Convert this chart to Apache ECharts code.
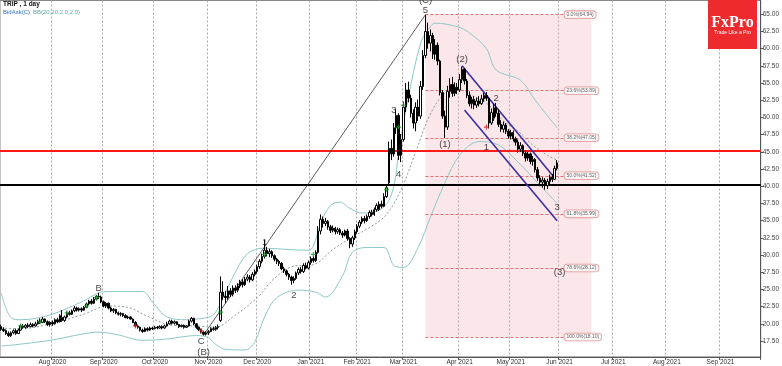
<!DOCTYPE html>
<html><head><meta charset="utf-8">
<script src="https://cdn.jsdelivr.net/npm/echarts@6/dist/echarts.min.js"></script>
<style>html,body{margin:0;padding:0;background:#fff}#c{width:782px;height:366px}</style>
</head><body><div id="c"></div>
<script>
// ---- categories: trading days (past) + weekdays (future projection) ----
const startDate = '2020-07-02';
const endDate = '2021-09-23';
const holidays = ['2020-07-03','2020-09-07','2020-11-26','2020-12-25','2021-01-01','2021-01-18','2021-02-15','2021-04-02','2021-05-31'];
const monthNames = ['Jan','Feb','Mar','Apr','May','Jun','Jul','Aug','Sep','Oct','Nov','Dec'];

// ---- OHLC as [open, close, low, high] ----
const candles = [
// Jul 2020
[19.6,19.2,19.0,19.9],[19.2,19.0,18.8,19.5],[19.0,18.6,18.4,19.2],[18.6,18.3,18.1,18.9],[18.3,18.7,18.1,18.9],
[18.7,19.0,18.5,19.2],[19.0,18.6,18.4,19.3],[18.6,19.1,18.5,19.3],[19.1,19.7,19.0,19.9],[19.7,19.5,19.3,20.0],
[19.5,19.8,19.3,20.0],[19.8,19.6,19.4,20.1],[19.6,19.9,19.5,20.2],[19.9,19.7,19.5,20.1],[19.7,20.0,19.6,20.3],
[20.0,20.4,19.9,20.6],[20.4,20.2,20.0,20.8],[20.2,20.7,20.1,21.0],[20.7,20.3,20.1,20.8],[20.3,19.9,19.7,20.5],
[19.9,20.2,19.6,20.4],
// Aug 2020
[20.2,20.0,19.7,20.5],[20.0,20.6,19.9,20.8],[20.6,20.3,20.1,20.9],[20.3,21.2,20.2,21.4],[20.9,20.5,20.3,22.0],
[20.5,21.0,20.3,21.2],[21.0,21.6,20.8,21.8],[21.6,21.4,21.2,21.9],[21.4,21.9,21.3,22.1],[21.9,22.3,21.7,22.6],
[22.3,22.0,21.8,22.5],[22.0,22.2,21.8,22.4],[22.2,22.0,21.7,22.4],[22.0,22.4,21.9,22.6],[22.4,22.9,22.3,23.1],
[22.9,23.3,22.7,23.5],[23.3,23.0,22.8,23.6],[23.0,23.6,22.9,23.9],[23.6,24.0,23.4,24.2],[24.0,23.9,23.6,24.5],
[23.9,23.2,23.0,24.1],
// Sep 2020
[23.2,22.6,22.4,23.4],[22.6,23.0,22.3,23.2],[23.0,22.3,22.1,23.1],[22.3,21.9,21.7,22.5],[21.9,22.1,21.6,22.3],
[22.1,21.6,21.4,22.2],[21.6,21.4,21.2,21.8],[21.4,21.5,21.1,21.7],[21.5,21.2,21.0,21.6],[21.2,20.9,20.8,21.4],
[20.9,21.0,20.7,21.2],[21.0,20.7,20.6,21.1],[20.7,20.2,20.1,20.8],[20.2,19.7,19.6,20.4],[19.7,19.5,19.3,19.9],
[19.5,19.1,18.9,19.6],[19.1,18.9,18.7,19.3],[18.9,19.3,18.8,19.5],[19.3,19.1,18.9,19.5],[19.1,19.4,19.0,19.6],
[19.4,19.3,19.1,19.6],
// Oct 2020
[19.3,19.5,19.2,19.7],[19.5,19.4,19.2,19.7],[19.4,19.6,19.3,19.8],[19.6,19.4,19.2,19.8],[19.4,19.7,19.3,19.9],
[19.7,20.0,19.6,20.3],[20.0,20.4,19.9,20.6],[20.4,20.1,19.9,20.6],[20.1,20.3,19.9,20.5],[20.3,19.9,19.8,20.4],
[19.9,19.6,19.4,20.0],[19.6,19.8,19.5,19.9],[19.8,19.5,19.3,19.9],[19.5,19.7,19.4,19.8],[19.7,20.4,19.6,20.6],
[20.4,20.8,20.2,21.0],[20.8,20.0,19.8,20.9],[20.0,19.5,19.3,20.1],[19.5,19.2,19.0,19.6],[19.2,18.8,18.6,19.3],
[18.8,18.5,18.3,18.9],[18.5,18.7,18.3,18.9],
// Nov 2020
[18.7,18.9,18.4,19.1],[18.9,19.3,18.8,19.5],[19.3,19.2,19.0,19.6],[19.2,19.5,19.0,19.7],[19.5,19.6,19.2,19.9],
[20.5,24.6,20.3,26.9],[24.6,24.0,23.5,26.2],[24.0,23.8,23.0,24.8],[23.8,24.8,23.5,25.5],[24.8,24.3,23.9,25.2],
[24.3,25.2,24.0,25.6],[25.2,24.9,24.5,25.6],[24.9,25.5,24.6,25.9],[25.5,26.1,25.2,26.4],[26.1,25.7,25.3,26.5],
[25.7,26.5,25.5,26.8],[26.5,26.8,26.2,27.2],[26.8,26.4,26.0,27.1],[26.4,27.2,26.2,27.5],[27.2,27.6,26.9,27.9],
// Dec 2020
[27.6,28.3,27.3,28.6],[28.3,29.1,28.0,29.4],[29.1,29.8,28.8,30.2],[29.8,30.7,29.5,32.2],[30.7,30.2,29.8,31.2],
[30.2,30.5,29.7,30.9],[30.5,29.9,29.6,30.7],[29.9,29.4,29.1,30.1],[29.4,29.1,28.7,29.6],[29.1,28.8,28.4,29.3],
[28.8,28.0,27.8,29.0],[28.0,27.7,27.4,28.3],[27.7,27.2,26.9,27.9],[27.2,26.8,26.4,27.4],[26.8,26.3,25.7,27.0],
[26.3,26.6,25.9,26.9],[26.6,27.4,26.4,27.6],[27.4,27.9,27.1,28.2],[27.9,27.6,27.3,28.3],[27.6,28.5,27.4,28.8],
[28.5,28.1,27.9,28.9],[28.1,28.9,27.9,29.2],
// Jan 2021
[28.9,29.5,28.6,29.8],[29.5,29.2,28.9,29.9],[29.2,30.4,29.0,30.7],[30.4,33.5,30.2,34.2],[33.5,35.2,33.0,35.9],
[35.2,34.6,34.0,35.6],[34.6,34.9,34.2,35.4],[34.9,34.1,33.7,35.1],[34.1,33.6,33.2,34.4],[33.6,33.9,33.3,34.3],
[33.9,33.4,33.0,34.1],[33.4,33.7,33.1,34.0],[33.7,33.2,32.9,33.9],[33.2,32.9,32.5,33.5],[32.9,33.5,32.7,33.7],
[33.5,32.4,32.1,33.8],[32.4,31.6,31.0,32.6],[31.6,32.5,31.2,32.8],[32.5,33.4,32.2,33.7],
// Feb 2021
[33.4,34.2,33.1,34.5],[34.2,34.8,33.9,35.1],[34.8,35.3,34.5,35.6],[35.3,35.0,34.6,35.7],[35.0,35.6,34.8,35.9],
[35.6,36.2,35.3,36.5],[36.2,35.9,35.6,36.6],[35.9,36.6,35.7,36.9],[36.6,37.2,36.3,37.5],[36.6,37.4,36.4,37.8],
[37.4,37.1,36.8,37.9],[37.1,38.5,37.0,39.0],[38.5,39.8,38.3,40.3],[40.5,45.5,40.3,46.5],[45.5,44.7,43.8,46.8],
[44.7,48.5,44.3,49.2],[48.5,50.3,47.6,51.2],[50.3,44.5,43.8,50.6],[44.5,46.8,43.5,47.6],
// Mar 2021
[46.8,51.5,46.5,52.3],[51.5,54.0,50.8,55.0],[54.0,52.8,52.2,55.2],[52.8,50.6,50.0,53.3],[50.6,49.2,48.4,51.2],
[49.2,51.5,48.0,52.2],[51.5,50.2,49.5,52.6],[50.2,54.5,49.8,55.3],[54.5,59.0,54.0,59.8],[59.0,62.5,58.6,64.94],
[62.5,60.8,60.0,63.8],[60.8,61.9,59.6,62.8],[61.9,59.2,58.5,62.3],[59.2,60.5,58.4,61.4],[60.5,58.2,57.6,60.9],
[58.2,53.6,53.2,58.4],[53.6,50.2,49.8,54.0],[50.2,48.6,47.0,51.0],[48.6,53.8,48.2,54.6],[53.8,54.8,52.9,55.7],
[54.8,53.5,53.0,55.9],[53.5,54.4,53.1,55.1],[54.4,54.0,53.4,55.0],
// Apr 2021
[54.0,55.5,53.7,56.3],[55.5,57.0,55.0,57.4],[57.0,55.3,54.8,57.2],[55.3,53.2,52.8,55.6],[53.2,52.0,51.6,53.8],
[52.0,52.6,51.3,53.0],[52.6,51.8,51.2,53.1],[51.8,52.4,51.4,52.9],[52.4,52.0,51.6,53.1],[52.0,52.7,51.8,53.3],
[52.7,53.2,52.3,53.6],[53.2,52.8,52.4,53.7],[52.8,49.2,48.4,52.9],[49.2,50.7,48.9,51.3],[49.9,51.4,49.5,52.0],
[51.4,50.6,50.1,52.1],[50.6,49.0,48.6,51.2],[49.0,48.3,47.9,49.6],[48.3,48.9,47.8,49.4],[48.9,48.0,47.6,49.2],
[48.0,47.3,46.9,48.3],
// May 2021
[47.3,47.8,46.8,48.2],[47.8,46.9,46.5,48.1],[46.9,46.4,45.9,47.2],[46.4,45.4,44.9,46.8],[45.4,45.9,45.0,46.4],
[45.9,44.8,44.4,46.1],[44.8,44.1,43.6,45.2],[44.1,44.7,43.7,45.0],[44.7,43.6,43.2,44.9],[43.6,43.9,43.0,44.4],
[43.9,42.4,42.0,44.1],[42.4,41.2,40.8,42.8],[41.2,40.6,40.0,41.6],[40.6,40.9,39.8,41.3],[40.9,40.1,39.5,41.2],
[40.1,40.7,39.6,41.1],[40.7,41.3,40.3,41.7],[41.3,41.0,40.6,41.8],[41.0,42.6,40.9,43.0],[42.6,43.38,42.3,43.8]
];

// ---- Bollinger Bands (20, 2.0): [barIndex, value] ----
const upperBand = [[0,24.5],[4,20.9],[8,20.6],[20,21.3],[33,23.2],[40,24.5],[44,24.7],[58,24.7],[62,23.2],[68,21.0],[76,20.6],[84,20.9],[87,21.3],[90,23.0],[95,26.8],[101,30.2],[108,31.0],[118,30.8],[126,30.7],[128,31.3],[131,34.6],[135,37.2],[139,37.7],[143,36.8],[148,36.1],[157,37.0],[161,40.0],[163,45.0],[167,53.0],[172,60.8],[175,62.7],[178,63.7],[187,63.2],[192,62.3],[199,60.0],[203,56.9],[213,55.4],[219,52.5],[228,48.5]];
const middleBand = [[0,19.4],[8,19.3],[20,20.0],[33,21.3],[44,22.6],[52,22.4],[60,21.1],[70,19.8],[80,19.7],[88,19.5],[95,21.0],[105,23.8],[112,26.6],[120,28.4],[128,28.6],[136,30.8],[144,32.6],[152,34.2],[158,35.9],[164,39.5],[170,45.0],[176,50.5],[182,53.5],[188,54.0],[194,53.0],[200,51.8],[206,49.5],[212,48.0],[218,46.0],[224,44.5],[228,43.8]];
const lowerBand = [[0,16.8],[4,16.9],[20,17.6],[33,18.5],[40,18.8],[48,18.4],[58,17.6],[68,17.8],[80,18.3],[85,18.0],[88,17.0],[92,16.3],[100,16.2],[104,17.4],[108,21.0],[113,23.8],[122,24.9],[129,24.6],[133,23.9],[140,27.0],[144,30.4],[150,31.1],[157,31.1],[161,28.5],[165,28.2],[171,31.1],[176,35.5],[182,40.5],[188,44.5],[196,46.5],[204,46.0],[212,43.5],[220,40.5],[228,37.5]];

// ---- signal markers [barIndex, price] ----
const greenSignals = [[8,19.7],[16,20.3],[27,21.6],[35,22.6],[39,23.8],[90,21.7],[108,30.1],[128,30.1],[158,39.5],[163,48.6],[165,51.8]];
const redSignals = [[55,19.7],[82,19.0],[199,48.6]];

// ---- Elliott wave labels ----
const waveText = ['(C)','5','3','4','(1)','(2)','1','2','3','(3)','1','2','B','C','(B)'];
const waveIdx  = [174,174,161,163,182,189,199,203,228,229,108,120,40,82,83];
const waveVal  = [66.95,65.6,51.1,41.8,46.1,58.4,45.7,52.8,37.0,27.5,31.9,24.2,25.2,17.4,15.9];

// ---- trend lines: [startIdx, startVal, endIdx, endVal] ----
const waveLine = [83,18.4,174,64.94];
const channelUpper = [189,57.5,227,41.2];
const channelLower = [190,51.1,228,35.0];

// ---- Fibonacci retracement ----
const fibStartIdx = 174, fibEndIdx = 242, fibLabelIdx = 231;
const fibPct = ['0.0%','23.6%','38.2%','50.0%','61.8%','78.6%','100.0%'];
const fibVal = [64.94,53.89,47.05,41.52,35.99,28.12,18.10];

// ---- horizontal levels & axis ----
const resistance = 45.2, support = 40.15, lastPrice = 43.38;
const yTicks = [17.5,20,22.5,25,27.5,30,32.5,35,37.5,40,42.5,45,47.5,50,52.5,55,57.5,60,62.5,65];

// ---------------------------------------------------------------
function fmt(d){return d.getUTCFullYear()+'-'+String(d.getUTCMonth()+1).padStart(2,'0')+'-'+String(d.getUTCDate()).padStart(2,'0');}
const dates = [];
(function(){
  let d = new Date(startDate+'T00:00:00Z'); const end = new Date(endDate+'T00:00:00Z');
  while (d <= end) {
    const s = fmt(d), wd = d.getUTCDay();
    if (wd !== 0 && wd !== 6 && holidays.indexOf(s) < 0) dates.push(s);
    d = new Date(d.getTime()+86400000);
  }
})();
const monthStart = dates.map((s,i)=> i>0 && s.slice(0,7)!==dates[i-1].slice(0,7));
const isMonthStart = (i)=> monthStart[i];
const FONT = '"Liberation Sans", Arial, sans-serif';

const pairs = arr => arr.map(p=>[dates[p[0]], p[1]]);
const seg = (a,style) => [{coord:[dates[a[0]],a[1]], lineStyle:style},{coord:[dates[a[2]],a[3]]}];

const chart = echarts.init(document.getElementById('c'), null, {renderer:'canvas'});
chart.setOption({
  animation:false,
  backgroundColor:'#fff',
  grid:{left:0, right:17, top:0.5, height:356.4, show:true, borderColor:'#888', borderWidth:1},
  xAxis:{
    type:'category', data:dates, boundaryGap:true,
    axisLine:{lineStyle:{color:'#555'}},
    axisTick:{show:true, interval:(i)=>isMonthStart(i), length:3, lineStyle:{color:'#555'}},
    axisLabel:{interval:(i)=>isMonthStart(i), fontSize:6.5, color:'#333', margin:2, fontFamily:FONT,
      formatter:(v)=> monthNames[+v.slice(5,7)-1]+' '+v.slice(0,4)},
    splitLine:{show:true, interval:(i)=>isMonthStart(i), lineStyle:{color:'#aaa', type:[2,2], width:1}}
  },
  yAxis:{
    type:'value', position:'right', min:15.2, max:67.0, scale:true,
    axisLine:{show:true, lineStyle:{color:'#555'}},
    axisTick:{show:true, length:3, customValues:yTicks, lineStyle:{color:'#555'}},
    axisLabel:{customValues:yTicks, fontSize:6.5, color:'#444', margin:2, fontFamily:FONT, formatter:(v)=>v.toFixed(2)},
    splitLine:{show:false}
  },
  series:[
    { // Fibonacci area, levels and helper lines
      type:'line', data:[], silent:true, z:1,
      markArea:{silent:true, itemStyle:{color:'rgba(240,170,175,0.28)'},
        data:[[{coord:[dates[fibStartIdx], fibVal[0]]},{coord:[dates[fibEndIdx], fibVal[6]]}]]},
      markLine:{silent:true, symbol:'none', label:{show:false},
        lineStyle:{color:'#e07070', type:[3,2], width:1},
        data: fibVal.map(v=>[{coord:[dates[fibStartIdx],v]},{coord:[dates[fibLabelIdx],v]}])}
    },
    {type:'line', data:pairs(upperBand), smooth:0.35, showSymbol:false, silent:true, z:3, lineStyle:{color:'#8ec8c8', width:1}},
    {type:'line', data:pairs(middleBand), smooth:0.35, showSymbol:false, silent:true, z:3, lineStyle:{color:'#8a9a9a', width:1, type:[2,2]}},
    {type:'line', data:pairs(lowerBand), smooth:0.35, showSymbol:false, silent:true, z:3, lineStyle:{color:'#8ec8c8', width:1}},
    {
      type:'candlestick', data:candles, barWidth:'80%', z:5,
      itemStyle:{color:'#ffffff', color0:'#000000', borderColor:'#000000', borderColor0:'#000000', borderWidth:1},
      markLine:{silent:true, symbol:'none', animation:false,
        data:[
          {yAxis:resistance, lineStyle:{color:'#ff1a1a', width:2, type:'solid'}, label:{show:false}},
          {yAxis:support, lineStyle:{color:'#000000', width:2, type:'solid'}, label:{show:false}},
          {yAxis:lastPrice, lineStyle:{opacity:0, width:0}, label:{show:true, position:'end', distance:1, formatter:lastPrice.toFixed(2),
             fontSize:6.5, color:'#222', backgroundColor:'#fff', borderColor:'#444', borderWidth:0.8, borderRadius:2, padding:[0,1], fontFamily:FONT}},
          seg(waveLine,{color:'#333', width:0.8, type:'solid'}),
          seg(channelUpper,{color:'#3a2fa3', width:1.6, type:'solid'}),
          seg(channelLower,{color:'#3a2fa3', width:1.6, type:'solid'})
        ]}
    },
    {type:'scatter', data:pairs(greenSignals), symbol:'path://M3,0H5V3H8V5H5V8H3V5H0V3H3Z', symbolSize:5, z:6, silent:true, itemStyle:{color:'#1f9a2a'}},
    {type:'scatter', data:pairs(redSignals), symbol:'path://M3,0H5V3H8V5H5V8H3V5H0V3H3Z', symbolSize:5, z:6, silent:true, itemStyle:{color:'#d02020'}},
    {type:'scatter', z:7, silent:true, symbolSize:0, clip:false,
      data: waveText.map((t,k)=>({value:[dates[waveIdx[k]], waveVal[k]], name:t})),
      label:{show:true, position:'inside', formatter:(p)=>p.name, fontSize:9.5, color:'#111', fontFamily:FONT}},
    {type:'scatter', z:7, silent:true, symbolSize:0,
      data: fibVal.map((v,k)=>({value:[dates[fibLabelIdx], v], name:fibPct[k]+'('+v.toFixed(2)+')'})),
      label:{show:true, position:'right', distance:0, formatter:(p)=>p.name, fontSize:5, color:'#333', fontFamily:FONT,
        backgroundColor:'#fff', borderColor:'#d98080', borderWidth:0.8, borderRadius:3, padding:[1,2]}}
  ],
  graphic:[
    {type:'text', left:3, top:1, style:{text:'TRIP , 1 day', font:'bold 6.5px '+FONT, fill:'#111'}},
    {type:'text', left:3, top:9, style:{text:'BidAsk(C)', font:'6px '+FONT, fill:'#2f6fd0'}},
    {type:'text', left:33, top:9, style:{text:'BB(20,20,2.0,2.0)', font:'6px '+FONT, fill:'#5fa8a8'}},
    {type:'rect', shape:{x:708, y:0, width:49, height:49}, style:{fill:'#ee2a2e'}, z:100},
    {type:'text', x:732.5, y:23, style:{text:'FxPro', font:'bold 16px "Liberation Serif", "DejaVu Serif", serif', fill:'#fff', textAlign:'center', textVerticalAlign:'middle'}, z:101},
    {type:'text', x:732.5, y:32.5, style:{text:'Trade Like a Pro', font:'5px '+FONT, fill:'#fff', textAlign:'center', textVerticalAlign:'middle'}, z:101}
  ]
});
</script></body></html>
